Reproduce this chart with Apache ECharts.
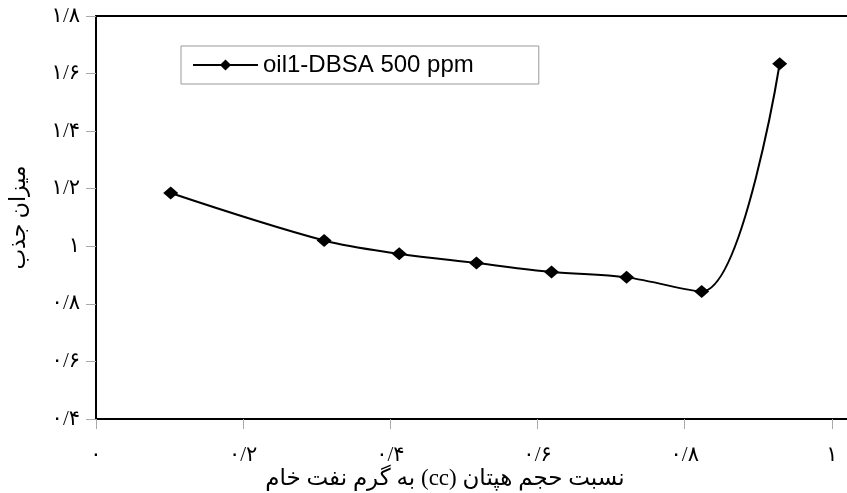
<!DOCTYPE html>
<html>
<head>
<meta charset="utf-8">
<script src="https://cdn.jsdelivr.net/npm/echarts@6/dist/echarts.min.js"></script>
<style>
html,body{margin:0;padding:0;background:#fff;}
#chart{width:847px;height:493px;}
</style>
</head>
<body>
<div id="chart"></div>
<script>
// Data
const seriesName = 'oil1-DBSA 500 ppm';
const xValues = [0.1015, 0.310, 0.412, 0.517, 0.619, 0.721, 0.823, 0.929];
const yValues = [1.185, 1.020, 0.974, 0.942, 0.911, 0.892, 0.843, 1.634];
const xTickValues = [0, 0.2, 0.4, 0.6, 0.8, 1.0];
const xTickLabels = ['۰', '۰/۲', '۰/۴', '۰/۶', '۰/۸', '۱'];
const yTickValues = [0.4, 0.6, 0.8, 1.0, 1.2, 1.4, 1.6, 1.8];
const yTickLabels = ['۰/۴', '۰/۶', '۰/۸', '۱', '۱/۲', '۱/۴', '۱/۶', '۱/۸'];
const xAxisTitle = 'نسبت حجم هپتان (cc) به گرم نفت خام';
const yAxisTitle = 'میزان جذب';

function lookup(vals, labels, v) {
  for (let i = 0; i < vals.length; i++) {
    if (Math.abs(vals[i] - v) < 1e-6) return labels[i];
  }
  return '';
}

const serif = "'Times New Roman', 'Liberation Serif', 'DejaVu Serif', 'DejaVu Sans', serif";
const chart = echarts.init(document.getElementById('chart'), null, {renderer: 'canvas'});
chart.setOption({
  animation: false,
  backgroundColor: '#fff',
  grid: {
    left: 96, width: 758, top: 16, bottom: 74,
    containLabel: false, outerBoundsMode: 'none',
    show: false
  },
  legend: {
    left: 181, top: 46,
    orient: 'horizontal',
    data: [seriesName],
    borderColor: '#999', borderWidth: 1,
    padding: [7, 65, 7, 11],
    itemWidth: 65, itemHeight: 14, itemGap: 6,
    textStyle: {fontFamily: "'Liberation Sans', Arial, sans-serif", fontSize: 24, color: '#000'}
  },
  xAxis: [{
    type: 'value', min: 0, max: 1.03, interval: 0.2,
    name: '\u202B' + xAxisTitle + '\u202C',
    nameLocation: 'middle', nameGap: 48, nameMoveOverlap: false,
    nameTextStyle: {fontFamily: serif, fontSize: 23, color: '#000', padding: [0, 60, 0, 0]},
    axisLine: {show: true, lineStyle: {color: '#000', width: 2}},
    axisTick: {show: true, inside: false, length: 10, lineStyle: {color: '#aaa', width: 1}},
    axisLabel: {
      showMaxLabel: false, margin: 26,
      fontFamily: serif, fontSize: 21, color: '#000',
      formatter: v => lookup(xTickValues, xTickLabels, v)
    },
    splitLine: {show: false}
  }, {
    type: 'value', position: 'top', min: 0, max: 1.03,
    axisLine: {show: true, lineStyle: {color: '#000', width: 2}},
    axisTick: {show: false}, axisLabel: {show: false}, splitLine: {show: false}
  }],
  yAxis: {
    type: 'value', min: 0.4, max: 1.8, interval: 0.2,
    name: yAxisTitle,
    nameLocation: 'middle', nameGap: 66, nameRotate: 90,
    nameTextStyle: {fontFamily: serif, fontSize: 22, color: '#000'},
    axisLine: {show: true, lineStyle: {color: '#000', width: 2}},
    axisTick: {show: true, inside: false, length: 10, lineStyle: {color: '#aaa', width: 1}},
    axisLabel: {
      margin: 16,
      fontFamily: serif, fontSize: 21, color: '#000',
      formatter: v => lookup(yTickValues, yTickLabels, v)
    },
    splitLine: {show: false}
  },
  series: [{
    name: seriesName,
    type: 'line',
    xAxisIndex: 0,
    data: xValues.map((x, i) => [x, yValues[i]]),
    smooth: 0.35,
    symbol: 'diamond',
    symbolSize: [15, 13],
    itemStyle: {color: '#000'},
    lineStyle: {color: '#000', width: 2}
  }]
});
</script>
</body>
</html>
